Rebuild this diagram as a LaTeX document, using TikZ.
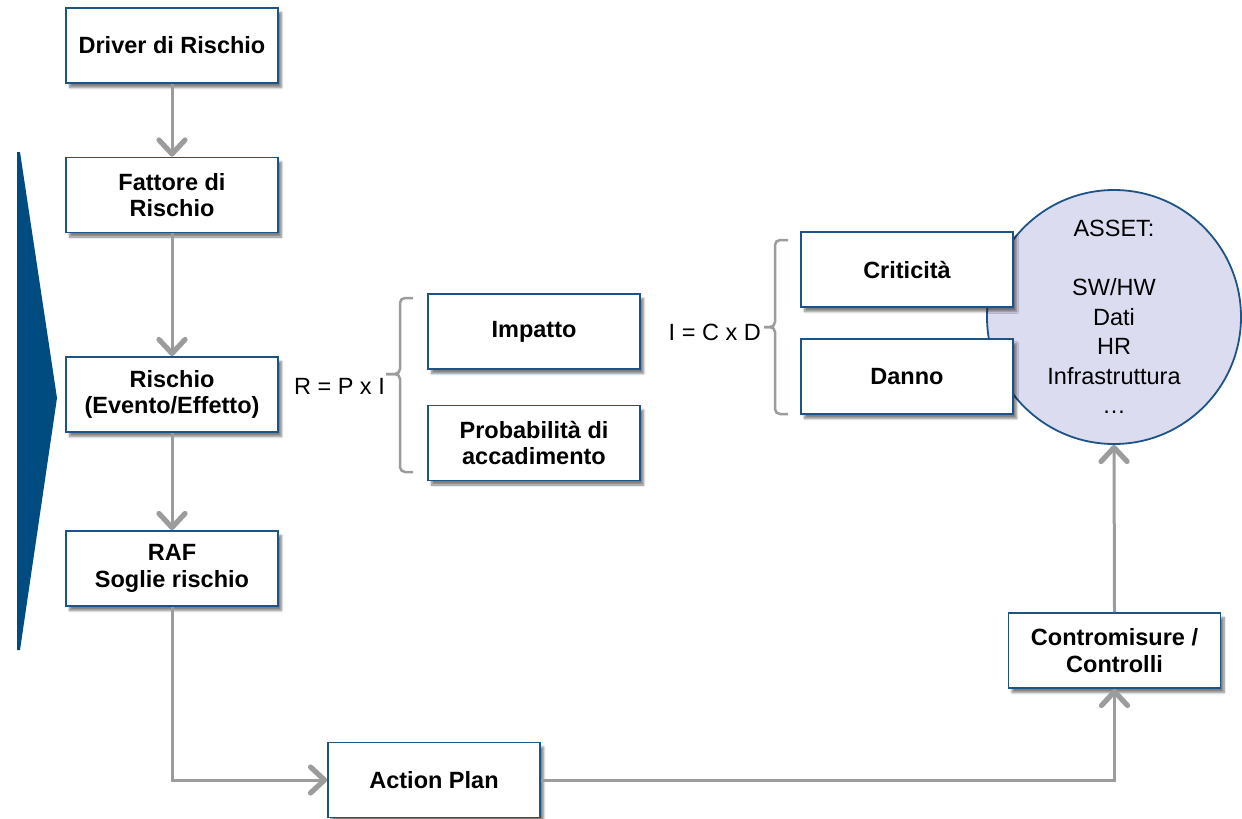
\documentclass[tikz,border=0pt]{standalone}
\usepackage{fontspec}
\setmainfont{Liberation Sans}
\usetikzlibrary{arrows.meta,shadows.blur}
\definecolor{boxblue}{HTML}{1D5386}
\definecolor{wedgeblue}{HTML}{004C80}
\definecolor{assetfill}{HTML}{DCDCF1}
\definecolor{linegray}{HTML}{9C9C9C}
\tikzset{
  stepbox/.style={draw=boxblue, line width=1.8pt, fill=white,
    minimum width=212pt, minimum height=75pt, inner sep=2pt,
    align=center, font=\fontsize{23.5}{26.5}\selectfont\bfseries,
    blur shadow={shadow xshift=3.5pt, shadow yshift=-4.5pt, shadow blur steps=7, shadow opacity=50}},
  conn/.style={draw=linegray, line width=3pt,
    -{Straight Barb[length=14pt,width=26pt,line width=5.2pt,round]}},
  bracket/.style={draw=linegray, line width=2.5pt, rounded corners=5pt},
  formula/.style={font=\fontsize{23.5}{28}\selectfont, inner sep=0pt},
}
\begin{document}
\begin{tikzpicture}[x=1pt,y=-1pt]
\useasboundingbox (0,0) rectangle (1242,819);

% side wedge
\fill[wedgeblue] (17,152) -- (20,152) -- (57,398) -- (20,650) -- (17,650) -- cycle;

% asset circle (drawn first: the boxes overlap it)
\node[circle, draw=boxblue, line width=1.8pt, fill=assetfill, minimum size=254pt,
      inner sep=0pt, align=center, font=\fontsize{23.5}{29.5}\selectfont]
  (asset) at (1114,317) {ASSET:\\[29.5pt]SW/HW\\Dati\\HR\\Infrastruttura\\…};

% left column
\node[stepbox] (driver)  at (172,45.5)  {Driver di Rischio};
\node[stepbox] (fattore) at (172,195)   {Fattore di\\Rischio};
\node[stepbox] (rischio) at (172,394.5) {Rischio\\(Evento/Effetto)};
\node[stepbox] (raf)     at (172,568.5) {RAF\\Soglie rischio};

% risk decomposition
\node[stepbox] (impatto) at (534,331.5) {Impatto};
\node[stepbox] (prob)    at (534,443)   {Probabilità di\\accadimento};
\node[stepbox] (crit)    at (907,269.5) {Criticità};
\node[stepbox] (danno)   at (907,376.5) {Danno};

% bottom row
\node[stepbox] (action)  at (434,780)    {Action Plan};
\node[stepbox] (contro)  at (1114.5,650.5) {Contromisure /\\Controlli};

% formulas and brackets
\node[formula, anchor=east] (rpi) at (385,386) {R = P x I};
\node[formula, anchor=east] (icd) at (761,332) {I = C x D};
\coordinate (tip1) at (386,374);
\coordinate (tip2) at (764,327);
\draw[bracket] (413,298) -- (400,298) -- (400,374) -- (tip1);
\draw[bracket] (tip1) -- (400,374) -- (400,472) -- (413,472);
\draw[bracket] (788,240) -- (775,240) -- (775,327) -- (tip2);
\draw[bracket] (tip2) -- (775,327) -- (775,414) -- (788,414);

% connectors
\draw[conn] (driver) -- (fattore);
\draw[conn] (fattore) -- (rischio);
\draw[conn] (rischio) -- (raf);
\draw[conn] (raf.south) |- (action.west);
\draw[conn] (action.east) -| (contro.south);
\draw[conn] (contro.north) -- (asset.south);
\end{tikzpicture}
\end{document}
